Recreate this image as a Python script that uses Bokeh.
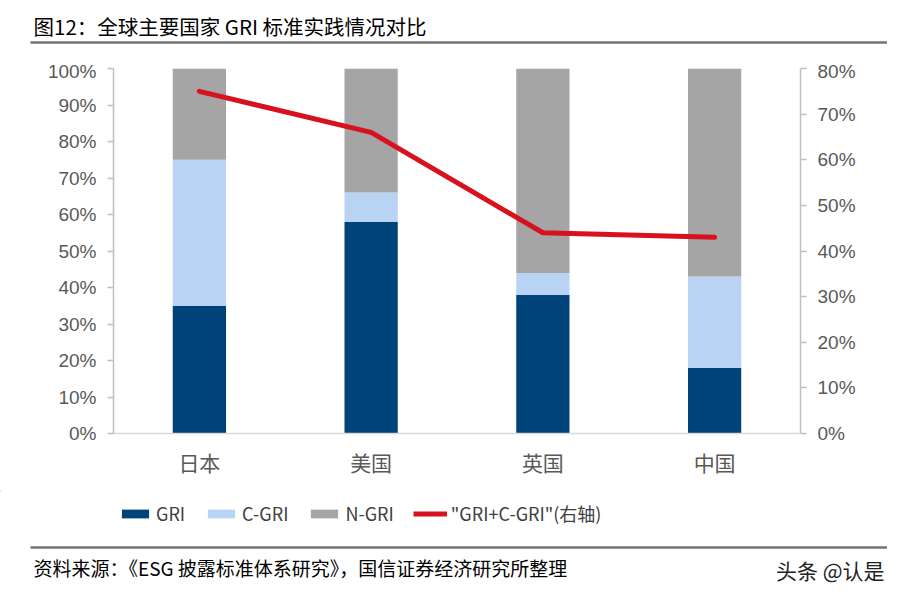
from bokeh.plotting import figure
from bokeh.layouts import column
from bokeh.models import (FactorRange, Range1d, LinearAxis, NumeralTickFormatter, FixedTicker,
                          Legend, LegendItem)
from bokeh.embed import file_html
from bokeh.resources import INLINE

# ---- data ----
countries = ["日本", "美国", "英国", "中国"]
gri = [0.35, 0.58, 0.38, 0.18]
c_gri = [0.40, 0.08, 0.06, 0.25]
n_gri = [0.25, 0.34, 0.56, 0.57]
gri_plus_c = [0.75, 0.66, 0.44, 0.43]
left_ticks = [0.0, 0.1, 0.2, 0.3, 0.4, 0.5, 0.6, 0.7, 0.8, 0.9, 1.0]
right_ticks = [0.0, 0.1, 0.2, 0.3, 0.4, 0.5, 0.6, 0.7, 0.8]
series = ["GRI", "C-GRI", "N-GRI"]
line_label = '"GRI+C-GRI"(右轴)'
title_text = "图12：全球主要国家 GRI 标准实践情况对比"
source_text = "资料来源：《ESG 披露标准体系研究》，国信证券经济研究所整理"
watermark_text = "头条 @认是"

colors = ["#00427A", "#B9D3F5", "#A5A5A5"]
red = "#D7121E"
rule = "#737373"
cjk = "Noto Sans CJK SC"
grey_txt = "#595959"

W = 887
H_HEAD, H_MAIN, H_FOOT = 60, 430, 96


def blank(height):
    f = figure(width=W, height=height, x_range=Range1d(0, W), y_range=Range1d(height, 0),
               output_backend="svg", toolbar_location=None, min_border=0,
               x_axis_location=None, y_axis_location=None, title=None)
    f.outline_line_color = None
    f.grid.grid_line_color = None
    return f

# ---- header ----
head = blank(H_HEAD)
head.text(x=[33], y=[25], text=[title_text], text_font={"value": cjk}, text_font_size="20.5px",
          text_color="#000000", text_baseline="middle", text_align="left")
head.segment(x0=[30], y0=[42], x1=[W], y1=[42], line_color=rule, line_width=2.5)

# ---- main chart ----
p = figure(x_range=FactorRange(*countries, range_padding=0), y_range=Range1d(0, 1),
           width=W, height=H_MAIN, output_backend="svg", toolbar_location=None,
           min_border_left=113, min_border_right=W - 800, min_border_top=8,
           min_border_bottom=H_MAIN - 8 - 365, y_axis_location=None)
p.outline_line_color = None
p.xgrid.grid_line_color = None
p.ygrid.grid_line_color = None
p.extra_y_ranges = {"right": Range1d(0, 0.8)}

data = dict(cat=countries, GRI=gri, **{"C-GRI": c_gri, "N-GRI": n_gri})
p.vbar_stack(series, x="cat", width=0.31, color=colors, line_color=None, source=data)
p.line(x=countries, y=gri_plus_c, y_range_name="right", line_color=red, line_width=5,
       line_cap="round")


def style_y(ax, ticks):
    ax.ticker = FixedTicker(ticks=ticks)
    ax.formatter = NumeralTickFormatter(format="0%")
    ax.axis_line_color = "#BFBFBF"
    ax.axis_line_width = 1.5
    ax.major_tick_line_color = "#BFBFBF"
    ax.major_tick_line_width = 1.5
    ax.major_tick_in = 0
    ax.major_tick_out = 6
    ax.minor_tick_line_color = None
    ax.major_label_text_font = "Liberation Sans"
    ax.major_label_text_font_size = "19px"
    ax.major_label_text_color = grey_txt
    ax.major_label_standoff = 11

yl = LinearAxis()
style_y(yl, left_ticks)
p.add_layout(yl, "left")
yr = LinearAxis(y_range_name="right")
style_y(yr, right_ticks)
p.add_layout(yr, "right")

xa = p.xaxis[0]
xa.axis_line_color = "#D9D9D9"
xa.axis_line_width = 1.5
xa.major_tick_line_color = None
xa.minor_tick_line_color = None
xa.major_label_text_font = cjk
xa.major_label_text_font_size = "21px"
xa.major_label_text_color = grey_txt
xa.major_label_standoff = 7

# ---- footer (legend + source) ----
foot = blank(H_FOOT)
legend_rs = [foot.vbar(x=[-1000], top=[1], width=1, color=c, line_color=None) for c in colors]
legend_rs.append(foot.line(x=[-1000, -999], y=[1, 1], line_color=red, line_width=5))
items = [LegendItem(label=s, renderers=[r]) for s, r in zip(series + [line_label], legend_rs)]
leg = Legend(items=items, orientation="horizontal", location=(118, 60),
             glyph_width=34, glyph_height=11, label_standoff=4, spacing=19,
             padding=0, margin=0, border_line_color=None, background_fill_alpha=0,
             label_text_font=cjk, label_text_font_size="18px", label_text_color="#404040")
foot.add_layout(leg, "center")
foot.segment(x0=[30], y0=[57], x1=[W], y1=[57], line_color=rule, line_width=2.5)
foot.text(x=[33], y=[77], text=[source_text], text_font={"value": cjk}, text_font_size="19px",
          text_color="#000000", text_baseline="middle", text_align="left")
foot.text(x=[884], y=[79], text=[watermark_text], text_font={"value": cjk},
          text_font_size="21px", text_color="#222222", text_baseline="middle",
          text_align="right")

layout = column(column(head), column(p), column(foot), spacing=0)
open("out.html", "w").write(file_html(layout, INLINE))
